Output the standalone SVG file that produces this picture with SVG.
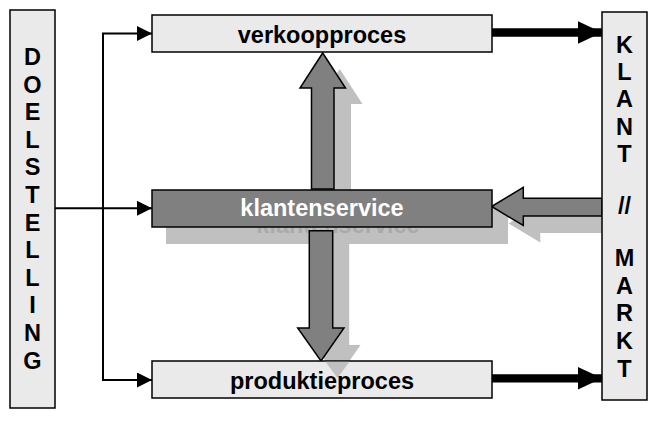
<svg xmlns="http://www.w3.org/2000/svg" width="649" height="435" viewBox="0 0 649 435">
<style>
.box{fill:#eaeaea;stroke:#000;stroke-width:1.5}
.dark{fill:#808080;stroke:#000;stroke-width:1.5}
.sh{fill:#c0c0c0}
.blk{fill:#808080;stroke:#000;stroke-width:1.5;stroke-linejoin:miter}
.t{font-family:"Liberation Sans",Arial,sans-serif;font-weight:bold;font-size:23.5px;text-anchor:middle;fill:#000}
.thin{fill:none;stroke:#000;stroke-width:2}
.thick{fill:none;stroke:#000;stroke-width:8.3}
</style>
<defs>
<marker id="ah" markerWidth="15" markerHeight="15" refX="15" refY="7.5" orient="auto" markerUnits="userSpaceOnUse"><path d="M0,0 L15,7.5 L0,15 z" fill="#000"/></marker>
<marker id="ahb" markerWidth="24" markerHeight="23" refX="24" refY="11.3" orient="auto" markerUnits="userSpaceOnUse"><path d="M0,0 L24,11.3 L0,22.6 z" fill="#000"/></marker>
</defs>
<g id="shadows">
<polygon class="sh" points="328.5,205 328.5,104 317,104 339.7,69 362.5,104 351,104 351,205"/>
<polygon class="sh" points="325.8,240 349.2,240 349.2,345 360.5,345 337.5,378 314.2,345 325.8,345"/>
<polygon class="sh" points="508.7,223.5 540.3,204.3 540.3,215.3 619,215.3 619,233 540.3,233 540.3,242.5"/>
<rect class="sh" x="166" y="207" width="342" height="37"/>
<text class="t" x="338" y="233.3" fill="#aaaaaa" style="fill:#aaaaaa">klantenservice</text>
</g>
<g id="connectors">
<path class="thin" d="M55,208.3 H152" marker-end="url(#ah)"/>
<path class="thin" d="M103,33.5 V380"/>
<path class="thin" d="M102,33.5 H152" marker-end="url(#ah)"/>
<path class="thin" d="M102,380 H152" marker-end="url(#ah)"/>
<path class="thick" d="M492,32.5 H602" marker-end="url(#ahb)"/>
<path class="thick" d="M492,378.3 H602" marker-end="url(#ahb)"/>
<polygon class="blk" points="311.5,189 311.5,88 300,88 322.7,53 345.5,88 334,88 334,189"/>
<polygon class="blk" points="309.3,230.7 332.7,230.7 332.7,328 344,328 321,361 297.7,328 309.3,328"/>
<polygon class="blk" points="491.7,206.5 523.3,187.3 523.3,198.3 602,198.3 602,216 523.3,216 523.3,225.5"/>
</g>
<g id="doelstelling">
<rect class="box" x="10" y="10" width="45" height="398"/>
<text class="t" x="32.5" y="65">D</text>
<text class="t" x="32.5" y="92.6">O</text>
<text class="t" x="32.5" y="120.2">E</text>
<text class="t" x="32.5" y="147.8">L</text>
<text class="t" x="32.5" y="175.4">S</text>
<text class="t" x="32.5" y="203">T</text>
<text class="t" x="32.5" y="230.6">E</text>
<text class="t" x="32.5" y="258.2">L</text>
<text class="t" x="32.5" y="285.8">L</text>
<text class="t" x="32.5" y="313.4">I</text>
<text class="t" x="32.5" y="341">N</text>
<text class="t" x="32.5" y="368.6">G</text>
</g>
<g id="verkoopproces">
<rect class="box" x="152" y="15" width="340" height="37"/>
<text class="t" x="322" y="43.3">verkoopproces</text>
</g>
<g id="klantenservice">
<rect class="dark" x="152" y="190" width="340" height="37"/>
<text class="t" x="322" y="216.3" style="fill:#fff">klantenservice</text>
</g>
<g id="produktieproces">
<rect class="box" x="152" y="361" width="340" height="37"/>
<polygon class="sh" points="325.5,361.75 349.35,361.75 337.5,378"/>
<text class="t" x="322" y="388.5">produktieproces</text>
</g>
<g id="klant-markt">
<rect class="box" x="602" y="12" width="45" height="388"/>
<text class="t" x="624.5" y="53">K</text>
<text class="t" x="624.5" y="80.2">L</text>
<text class="t" x="624.5" y="107.4">A</text>
<text class="t" x="624.5" y="134.6">N</text>
<text class="t" x="624.5" y="161.8">T</text>
<text class="t" x="624.5" y="214">//</text>
<text class="t" x="624.5" y="266">M</text>
<text class="t" x="624.5" y="293.7">A</text>
<text class="t" x="624.5" y="321.4">R</text>
<text class="t" x="624.5" y="349.1">K</text>
<text class="t" x="624.5" y="376.8">T</text>
</g>
</svg>
